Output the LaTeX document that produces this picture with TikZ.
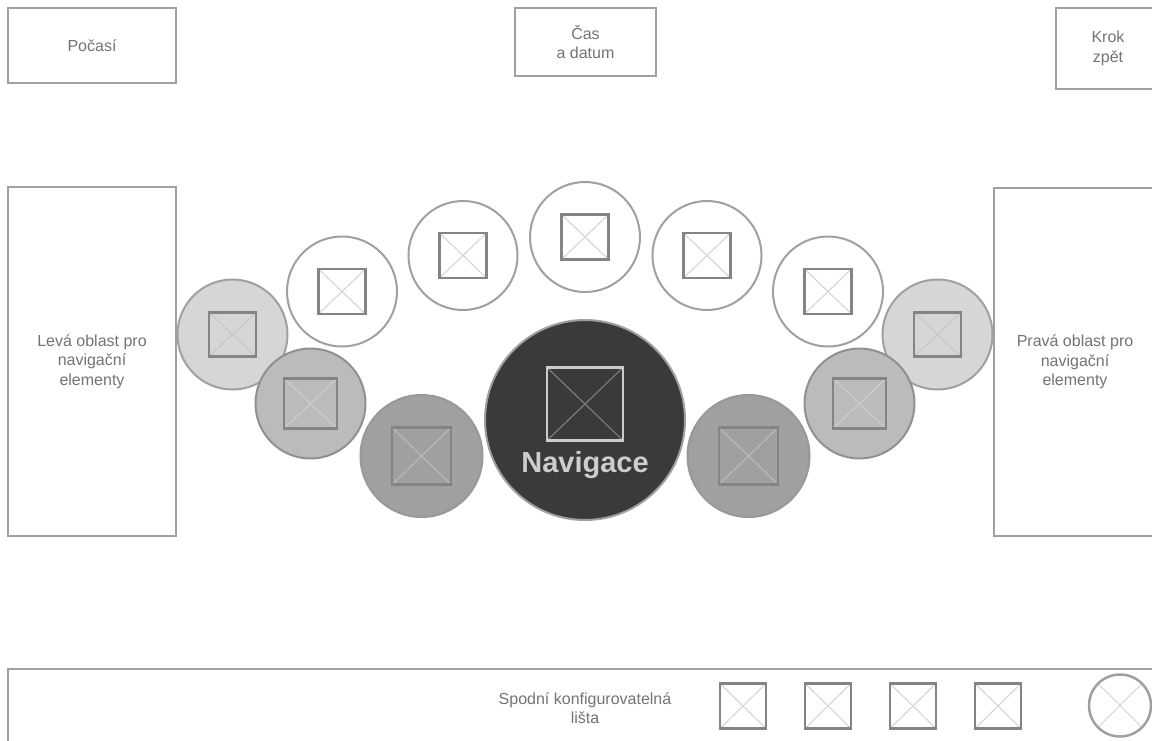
\documentclass[tikz,border=0pt]{standalone}
\usepackage{fontspec}
\setmainfont{Liberation Sans}
\definecolor{boxgray}{HTML}{A0A0A0}
\definecolor{txtgray}{HTML}{737373}
\definecolor{sqgray}{HTML}{848484}
\definecolor{diaglight}{HTML}{D2D2D2}
\definecolor{fillA}{HTML}{D6D6D6}
\definecolor{fillB}{HTML}{BBBBBB}
\definecolor{fillC}{HTML}{A0A0A0}
\definecolor{navfill}{HTML}{3A3A3A}
\definecolor{navtext}{HTML}{CDCDCD}
\tikzset{
  frame/.style={draw=boxgray, line width=2.5pt, text=txtgray,
    font=\fontsize{16}{19.5}\selectfont, align=center, inner sep=0pt},
  disc/.style n args={3}{circle, draw=#1, fill=#2, line width=2pt,
    minimum size=#3, inner sep=0pt},
  img/.style n args={4}{rectangle, draw=#1, line width=2.5pt,
    minimum width=#2, minimum height=#3, inner sep=0pt,
    path picture={\draw[#4, line width=1pt]
      (path picture bounding box.north west) -- (path picture bounding box.south east)
      (path picture bounding box.north east) -- (path picture bounding box.south west);}},
  lbl/.style={text=txtgray, font=\fontsize{16}{19.5}\selectfont, align=center, inner sep=0pt},
}
\begin{document}
\begin{tikzpicture}[x=1pt, y=-1pt]
\useasboundingbox (0,0) rectangle (1152,740);
\clip (0,0) rectangle (1152,740);
% top boxes
\node[frame, minimum width=168pt, minimum height=75pt] (weather) at (92,45.5) {Počasí};
\node[frame, minimum width=141pt, minimum height=68pt] (time) at (585.5,42) {Čas\\a datum};
\node[frame, minimum width=104pt, minimum height=81pt] (back) at (1108,48.5) {Krok\\zpět};
% side areas
\node[frame, minimum width=168pt, minimum height=349pt] (leftarea) at (92,361.5) {Levá oblast pro\\navigační\\elementy};
\node[frame, minimum width=162pt, minimum height=348pt] (rightarea) at (1075,362) {Pravá oblast pro\\navigační\\elementy};
% bottom bar
\node[frame, minimum width=1152pt, minimum height=80pt] (bar) at (584,709) {};
\node[lbl] (bartext) at (585,708) {Spodní konfigurovatelná\\lišta};
% bottom icons
\node[img={sqgray}{46pt}{45pt}{diaglight}] (b1) at (743,706) {};
\node[img={sqgray}{46pt}{45pt}{diaglight}] (b2) at (828,706) {};
\node[img={sqgray}{46pt}{45pt}{diaglight}] (b3) at (913,706) {};
\node[img={sqgray}{46pt}{45pt}{diaglight}] (b4) at (998,706) {};
\node[circle, draw=boxgray, line width=2.5pt, minimum size=62pt, inner sep=0pt,
  path picture={\draw[diaglight, line width=1pt]
    (path picture bounding box.north west) -- (path picture bounding box.south east)
    (path picture bounding box.north east) -- (path picture bounding box.south west);}] (b5) at (1120,705.5) {};
% arc of circles
\node[disc={boxgray}{fillA}{110pt}] (l1) at (232.5,334.5) {};
\node[disc={boxgray}{fillA}{110pt}] (r1) at (937.5,334.5) {};
\node[disc={boxgray}{white}{110pt}] (l2) at (342,291.5) {};
\node[disc={boxgray}{white}{110pt}] (r2) at (828,291.5) {};
\node[disc={boxgray}{white}{109pt}] (l3) at (463,255.5) {};
\node[disc={boxgray}{white}{109pt}] (r3) at (707,255.5) {};
\node[disc={boxgray}{white}{110pt}] (top) at (585,237) {};
\node[disc={boxgray!90!black}{fillB}{110pt}] (l4) at (310.5,403.5) {};
\node[disc={boxgray!90!black}{fillB}{110pt}] (r4) at (859.5,403.5) {};
\node[disc={fillC!95!black}{fillC}{122pt}] (l5) at (421.5,456) {};
\node[disc={fillC!95!black}{fillC}{122pt}] (r5) at (748.5,456) {};
\node[disc={boxgray}{navfill}{200pt}] (nav) at (585,420) {};
% icons inside circles
\node[img={sqgray}{47pt}{44pt}{fillA!80!gray}] (il1) at (l1.center) {};
\node[img={sqgray}{47pt}{44pt}{fillA!80!gray}] (ir1) at (r1.center) {};
\node[img={sqgray}{47pt}{45pt}{diaglight}] (il2) at (l2.center) {};
\node[img={sqgray}{47pt}{45pt}{diaglight}] (ir2) at (r2.center) {};
\node[img={sqgray}{47pt}{45pt}{diaglight}] (il3) at (l3.center) {};
\node[img={sqgray}{47pt}{45pt}{diaglight}] (ir3) at (r3.center) {};
\node[img={sqgray}{47pt}{45pt}{diaglight}] (itop) at (top.center) {};
\node[img={sqgray}{53pt}{50pt}{fillB!70!white}] (il4) at (l4.center) {};
\node[img={sqgray}{53pt}{50pt}{fillB!70!white}] (ir4) at (r4.center) {};
\node[img={sqgray}{59pt}{57pt}{fillC!70!white}] (il5) at (l5.center) {};
\node[img={sqgray}{59pt}{57pt}{fillC!70!white}] (ir5) at (r5.center) {};
\node[img={navtext}{76pt}{73pt}{sqgray}] (inav) at (585,404) {};
\node[text=navtext, font=\fontsize{29}{30}\bfseries, inner sep=0pt] (navlabel) at (585,465) {Navigace};
\end{tikzpicture}
\end{document}
